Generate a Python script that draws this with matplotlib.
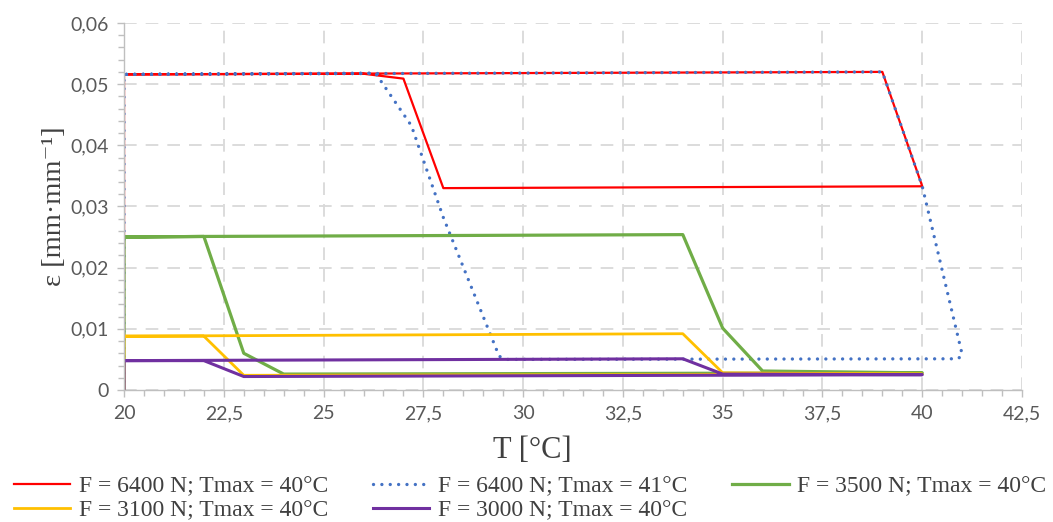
import matplotlib
matplotlib.use('Agg')
import matplotlib.pyplot as plt
from matplotlib.ticker import MultipleLocator, FuncFormatter

# strain loops, points in drawing order (T in degC, eps in mm/mm)
t_6400_40 = [20, 20, 26, 27, 28, 40, 39, 20]
e_6400_40 = [0, 0.0516, 0.0517, 0.0509, 0.0330, 0.0333, 0.0520, 0.0516]

t_6400_41 = [20, 20, 26.3, 27.2, 28.0, 29.4, 29.6, 40.9, 41.0, 40, 39, 20]
e_6400_41 = [0, 0.0516, 0.0518, 0.0432, 0.0282, 0.0055, 0.0050, 0.0051, 0.0058, 0.0333, 0.0520, 0.0516]

t_3500 = [20, 20, 22, 23, 24, 40, 36, 35, 34, 22, 20]
e_3500 = [0, 0.0250, 0.0251, 0.0060, 0.0026, 0.0028, 0.0031, 0.0101, 0.0254, 0.0251, 0.0250]

t_3100 = [20, 20, 22, 23, 40, 35, 34, 20]
e_3100 = [0, 0.0088, 0.0088, 0.0024, 0.0026, 0.0028, 0.0092, 0.0088]

t_3000 = [20, 20, 22, 23, 40, 35, 34, 20]
e_3000 = [0, 0.0048, 0.0048, 0.0022, 0.0025, 0.0026, 0.0051, 0.0048]

labels = ['F = 6400 N; Tmax = 40°C', 'F = 6400 N; Tmax = 41°C', 'F = 3500 N; Tmax = 40°C',
          'F = 3100 N; Tmax = 40°C', 'F = 3000 N; Tmax = 40°C']

serif = ['Liberation Serif', 'DejaVu Serif']

fig = plt.figure(figsize=(10.53, 5.22), dpi=100)
ax = fig.add_axes([0.1178, 0.2529, 0.8528, 0.7031])

h = []
h += ax.plot(t_6400_40, e_6400_40, color='#FF0000', lw=1.6, label=labels[0])
h += ax.plot(t_6400_41, e_6400_41, color='#4472C4', lw=2.4, linestyle=(0, (0.01, 2.5)),
             dash_capstyle='round', label=labels[1])
h += ax.plot(t_3500, e_3500, color='#70AD47', lw=2.3, label=labels[2])
h += ax.plot(t_3100, e_3100, color='#FFC000', lw=2.0, label=labels[3])
h += ax.plot(t_3000, e_3000, color='#7030A0', lw=2.2, label=labels[4])

ax.set_xlim(20, 42.5)
ax.set_ylim(0, 0.06)
ax.xaxis.set_major_locator(MultipleLocator(2.5))
ax.xaxis.set_minor_locator(MultipleLocator(0.5))
ax.yaxis.set_major_locator(MultipleLocator(0.01))
ax.yaxis.set_minor_locator(MultipleLocator(0.002))

def comma(v, pos):
    s = ('%.2f' % v).rstrip('0').rstrip('.') if abs(v) > 1e-12 else '0'
    return s.replace('.', ',')

ax.xaxis.set_major_formatter(FuncFormatter(comma))
ax.yaxis.set_major_formatter(FuncFormatter(comma))

for s in ['top', 'right']:
    ax.spines[s].set_visible(False)
for s in ['left', 'bottom']:
    ax.spines[s].set_color('#bfbfbf')
    ax.spines[s].set_linewidth(1.0)

ax.tick_params(which='both', direction='out', color='#bfbfbf', width=1.0)
ax.tick_params(which='major', length=5, labelsize=14, labelcolor='#595959', pad=6)
ax.tick_params(which='minor', length=4)
for lab in ax.get_xticklabels() + ax.get_yticklabels():
    lab.set_family('Lato')

ax.grid(True, which='major', color='#d9d9d9', lw=1.3, linestyle=(0, (7, 5)))
ax.set_axisbelow(True)

ax.set_xlabel('T [°C]', family=serif, fontsize=22, color='#404040')
ax.xaxis.set_label_coords(0.455, -0.125)
ax.set_ylabel('ε [mm·mm⁻¹]', family=serif, fontsize=20.5, color='#404040', labelpad=2.5)

# row-wise order for a 3-column legend
order = [0, 3, 1, 4, 2]
leg = fig.legend([h[i] for i in order], [labels[i] for i in order],
                 loc='upper left', bbox_to_anchor=(0.004, 0.107), ncol=3, frameon=False,
                 prop={'family': serif, 'size': 17},
                 handlelength=2.4, handletextpad=0.35, columnspacing=1.9,
                 labelspacing=0.1, borderaxespad=0.0)
for t in leg.get_texts():
    t.set_color('#404040')

fig.savefig('out.png', dpi=100)
